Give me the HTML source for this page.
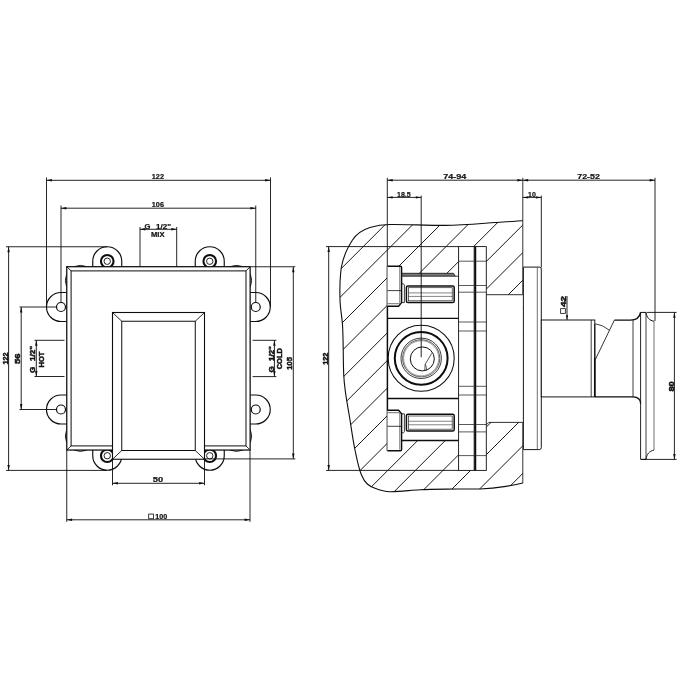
<!DOCTYPE html>
<html><head><meta charset="utf-8"><title>drawing</title>
<style>
html,body{margin:0;padding:0;background:#fff;}
body{width:700px;height:700px;overflow:hidden;}
svg{display:block;}
text{font-family:"Liberation Sans",sans-serif;font-weight:bold;fill:#111;stroke:#111;stroke-width:0.22px;}
text.r{stroke-width:0.5px;}
</style></head><body>
<svg width="700" height="700" viewBox="0 0 700 700">
<rect x="0" y="0" width="700" height="700" fill="#fff"/>
<g opacity="0.995">

<circle cx="80.5" cy="280.5" r="15.1" fill="none" stroke="#0c0c0c" stroke-width="1.0"/>
<circle cx="236.5" cy="280.5" r="15.1" fill="none" stroke="#0c0c0c" stroke-width="1.0"/>
<circle cx="80.5" cy="436.25" r="15.1" fill="none" stroke="#0c0c0c" stroke-width="1.0"/>
<circle cx="236.5" cy="436.25" r="15.1" fill="none" stroke="#0c0c0c" stroke-width="1.0"/>
<path d="M92.75,266.7 V261.25 A14.5,14.5 0 0 1 121.75,261.25 V266.7" fill="#fff" stroke="#0c0c0c" stroke-width="1.15" />
<circle cx="107.25" cy="261.25" r="6.3" fill="none" stroke="#0c0c0c" stroke-width="2.1"/>
<circle cx="107.25" cy="261.25" r="3.2" fill="none" stroke="#0c0c0c" stroke-width="0.9"/>
<path d="M92.75,450.05 V455.75 A14.5,14.5 0 0 0 121.75,455.75 V450.05" fill="#fff" stroke="#0c0c0c" stroke-width="1.15" />
<circle cx="107.25" cy="455.75" r="6.3" fill="none" stroke="#0c0c0c" stroke-width="2.1"/>
<circle cx="107.25" cy="455.75" r="3.2" fill="none" stroke="#0c0c0c" stroke-width="0.9"/>
<path d="M195.25,266.7 V261.25 A14.5,14.5 0 0 1 224.25,261.25 V266.7" fill="#fff" stroke="#0c0c0c" stroke-width="1.15" />
<circle cx="209.75" cy="261.25" r="6.3" fill="none" stroke="#0c0c0c" stroke-width="2.1"/>
<circle cx="209.75" cy="261.25" r="3.2" fill="none" stroke="#0c0c0c" stroke-width="0.9"/>
<path d="M195.25,450.05 V455.75 A14.5,14.5 0 0 0 224.25,455.75 V450.05" fill="#fff" stroke="#0c0c0c" stroke-width="1.15" />
<circle cx="209.75" cy="455.75" r="6.3" fill="none" stroke="#0c0c0c" stroke-width="2.1"/>
<circle cx="209.75" cy="455.75" r="3.2" fill="none" stroke="#0c0c0c" stroke-width="0.9"/>
<path d="M66.75,292.5 H61.0 A14.5,14.5 0 0 0 61.0,321.5 H66.75" fill="#fff" stroke="#0c0c0c" stroke-width="1.15" />
<circle cx="61.0" cy="307.0" r="4.5" fill="none" stroke="#0c0c0c" stroke-width="1.2"/>
<path d="M250.15,292.5 H255.75 A14.5,14.5 0 0 1 255.75,321.5 H250.15" fill="#fff" stroke="#0c0c0c" stroke-width="1.15" />
<circle cx="255.75" cy="307.0" r="4.5" fill="none" stroke="#0c0c0c" stroke-width="1.2"/>
<path d="M66.75,395.0 H61.0 A14.5,14.5 0 0 0 61.0,424.0 H66.75" fill="#fff" stroke="#0c0c0c" stroke-width="1.15" />
<circle cx="61.0" cy="409.5" r="4.5" fill="none" stroke="#0c0c0c" stroke-width="1.2"/>
<path d="M250.15,395.0 H255.75 A14.5,14.5 0 0 1 255.75,424.0 H250.15" fill="#fff" stroke="#0c0c0c" stroke-width="1.15" />
<circle cx="255.75" cy="409.5" r="4.5" fill="none" stroke="#0c0c0c" stroke-width="1.2"/>
<rect x="66.75" y="266.7" width="183.4" height="183.35" rx="0" fill="#fff" stroke="#0c0c0c" stroke-width="1.25"/>
<rect x="71.1" y="270.9" width="174.9" height="175.0" rx="0" fill="none" stroke="#0c0c0c" stroke-width="1.0"/>
<line x1="66.75" y1="266.7" x2="71.1" y2="270.9" stroke="#0c0c0c" stroke-width="0.9"/>
<line x1="250.15" y1="266.7" x2="246.0" y2="270.9" stroke="#0c0c0c" stroke-width="0.9"/>
<line x1="66.75" y1="450.05" x2="71.1" y2="445.9" stroke="#0c0c0c" stroke-width="0.9"/>
<line x1="250.15" y1="450.05" x2="246.0" y2="445.9" stroke="#0c0c0c" stroke-width="0.9"/>
<rect x="112.5" y="312.5" width="92.0" height="146.75" rx="0" fill="#fff" stroke="#0c0c0c" stroke-width="1.1"/>
<rect x="121.75" y="321.25" width="73.5" height="129.25" rx="0" fill="none" stroke="#0c0c0c" stroke-width="1.0"/>
<line x1="112.5" y1="312.5" x2="121.75" y2="321.25" stroke="#0c0c0c" stroke-width="0.9"/>
<line x1="204.5" y1="312.5" x2="195.25" y2="321.25" stroke="#0c0c0c" stroke-width="0.9"/>
<line x1="112.5" y1="459.25" x2="121.75" y2="450.5" stroke="#0c0c0c" stroke-width="0.9"/>
<line x1="204.5" y1="459.25" x2="195.25" y2="450.5" stroke="#0c0c0c" stroke-width="0.9"/>
<line x1="46.5" y1="177.5" x2="46.5" y2="307" stroke="#0c0c0c" stroke-width="0.9"/>
<line x1="270.5" y1="177.5" x2="270.5" y2="307" stroke="#0c0c0c" stroke-width="0.9"/>
<line x1="46.5" y1="180.3" x2="270.5" y2="180.3" stroke="#0c0c0c" stroke-width="0.9"/>
<polygon points="46.5,180.3 51.90,179.10 51.90,181.50" fill="#0c0c0c"/>
<polygon points="270.5,180.3 265.10,181.50 265.10,179.10" fill="#0c0c0c"/>
<text x="157.9" y="179.32" text-anchor="middle" font-size="7.6" textLength="12.2" lengthAdjust="spacingAndGlyphs">122</text>
<line x1="61" y1="205.5" x2="61" y2="302" stroke="#0c0c0c" stroke-width="0.9"/>
<line x1="255.75" y1="205.5" x2="255.75" y2="302" stroke="#0c0c0c" stroke-width="0.9"/>
<line x1="61" y1="208.2" x2="255.75" y2="208.2" stroke="#0c0c0c" stroke-width="0.9"/>
<polygon points="61,208.2 66.40,207.00 66.40,209.40" fill="#0c0c0c"/>
<polygon points="255.75,208.2 250.35,209.40 250.35,207.00" fill="#0c0c0c"/>
<text x="157.9" y="207.32" text-anchor="middle" font-size="7.6" textLength="12.2" lengthAdjust="spacingAndGlyphs">106</text>
<line x1="140" y1="227" x2="140" y2="266.5" stroke="#0c0c0c" stroke-width="0.9"/>
<line x1="176.7" y1="227" x2="176.7" y2="266.5" stroke="#0c0c0c" stroke-width="0.9"/>
<line x1="140" y1="229.3" x2="176.7" y2="229.3" stroke="#0c0c0c" stroke-width="0.9"/>
<polygon points="140,229.3 145.40,228.10 145.40,230.50" fill="#0c0c0c"/>
<polygon points="176.7,229.3 171.30,230.50 171.30,228.10" fill="#0c0c0c"/>
<text x="147.4" y="228.62" text-anchor="middle" font-size="7.6">G</text>
<text x="163.5" y="228.62" text-anchor="middle" font-size="7.6" textLength="15.0" lengthAdjust="spacingAndGlyphs">1/2"</text>
<text x="157.8" y="237.22" text-anchor="middle" font-size="7.6" textLength="13.5" lengthAdjust="spacingAndGlyphs">MIX</text>
<line x1="6" y1="246.75" x2="107" y2="246.75" stroke="#0c0c0c" stroke-width="0.9"/>
<line x1="6" y1="470.4" x2="107" y2="470.4" stroke="#0c0c0c" stroke-width="0.9"/>
<line x1="8.6" y1="246.75" x2="8.6" y2="470.4" stroke="#0c0c0c" stroke-width="0.9"/>
<polygon points="8.6,246.75 9.80,252.15 7.40,252.15" fill="#0c0c0c"/>
<polygon points="8.6,470.4 7.40,465.00 9.80,465.00" fill="#0c0c0c"/>
<text class="r" transform="translate(7.50,358.5) rotate(-90)" text-anchor="middle" font-size="8.1" textLength="12.0" lengthAdjust="spacingAndGlyphs">122</text>
<line x1="19.5" y1="307" x2="56.5" y2="307" stroke="#0c0c0c" stroke-width="0.9"/>
<line x1="19.5" y1="409.5" x2="56.5" y2="409.5" stroke="#0c0c0c" stroke-width="0.9"/>
<line x1="21.2" y1="307" x2="21.2" y2="409.5" stroke="#0c0c0c" stroke-width="0.9"/>
<polygon points="21.2,307 22.40,312.40 20.00,312.40" fill="#0c0c0c"/>
<polygon points="21.2,409.5 20.00,404.10 22.40,404.10" fill="#0c0c0c"/>
<text class="r" transform="translate(20.40,358.75) rotate(-90)" text-anchor="middle" font-size="8.1" textLength="10.5" lengthAdjust="spacingAndGlyphs">56</text>
<line x1="34.5" y1="340.3" x2="64.5" y2="340.3" stroke="#0c0c0c" stroke-width="0.9"/>
<line x1="34.5" y1="376.5" x2="64.5" y2="376.5" stroke="#0c0c0c" stroke-width="0.9"/>
<line x1="36.3" y1="340.3" x2="36.3" y2="376.5" stroke="#0c0c0c" stroke-width="0.9"/>
<polygon points="36.3,340.3 37.50,345.70 35.10,345.70" fill="#0c0c0c"/>
<polygon points="36.3,376.5 35.10,371.10 37.50,371.10" fill="#0c0c0c"/>
<text class="r" transform="translate(35.10,369.9) rotate(-90)" text-anchor="middle" font-size="8.1">G</text>
<text class="r" transform="translate(35.10,353.5) rotate(-90)" text-anchor="middle" font-size="8.1" textLength="15" lengthAdjust="spacingAndGlyphs">1/2"</text>
<text class="r" transform="translate(43.70,359.5) rotate(-90)" text-anchor="middle" font-size="8.1" textLength="16" lengthAdjust="spacingAndGlyphs">HOT</text>
<line x1="252.6" y1="340.3" x2="276.4" y2="340.3" stroke="#0c0c0c" stroke-width="0.9"/>
<line x1="252.6" y1="376.6" x2="276.4" y2="376.6" stroke="#0c0c0c" stroke-width="0.9"/>
<line x1="274.4" y1="340.3" x2="274.4" y2="376.6" stroke="#0c0c0c" stroke-width="0.9"/>
<polygon points="274.4,340.3 275.60,345.70 273.20,345.70" fill="#0c0c0c"/>
<polygon points="274.4,376.6 273.20,371.20 275.60,371.20" fill="#0c0c0c"/>
<text class="r" transform="translate(273.60,369.4) rotate(-90)" text-anchor="middle" font-size="8.1">G</text>
<text class="r" transform="translate(273.60,353.6) rotate(-90)" text-anchor="middle" font-size="8.1" textLength="14.8" lengthAdjust="spacingAndGlyphs">1/2"</text>
<text class="r" transform="translate(281.90,358.7) rotate(-90)" text-anchor="middle" font-size="8.1" textLength="21.2" lengthAdjust="spacingAndGlyphs">COLD</text>
<line x1="250.5" y1="266.75" x2="295.3" y2="266.75" stroke="#0c0c0c" stroke-width="0.9"/>
<line x1="205" y1="458.9" x2="295.3" y2="458.9" stroke="#0c0c0c" stroke-width="0.9"/>
<line x1="293.3" y1="266.75" x2="293.3" y2="458.9" stroke="#0c0c0c" stroke-width="0.9"/>
<polygon points="293.3,266.75 294.50,272.15 292.10,272.15" fill="#0c0c0c"/>
<polygon points="293.3,458.9 292.10,453.50 294.50,453.50" fill="#0c0c0c"/>
<text class="r" transform="translate(292.45,363.4) rotate(-90)" text-anchor="middle" font-size="8.1" textLength="12.5" lengthAdjust="spacingAndGlyphs">105</text>
<line x1="112.5" y1="459.5" x2="112.5" y2="485.3" stroke="#0c0c0c" stroke-width="0.9"/>
<line x1="204.5" y1="459.5" x2="204.5" y2="485.3" stroke="#0c0c0c" stroke-width="0.9"/>
<line x1="112.5" y1="483.3" x2="204.5" y2="483.3" stroke="#0c0c0c" stroke-width="0.9"/>
<polygon points="112.5,483.3 117.90,482.10 117.90,484.50" fill="#0c0c0c"/>
<polygon points="204.5,483.3 199.10,484.50 199.10,482.10" fill="#0c0c0c"/>
<text x="158.0" y="482.47" text-anchor="middle" font-size="7.6" textLength="10.4" lengthAdjust="spacingAndGlyphs">50</text>
<line x1="66.75" y1="450.3" x2="66.75" y2="521.8" stroke="#0c0c0c" stroke-width="0.9"/>
<line x1="250" y1="450.3" x2="250" y2="521.8" stroke="#0c0c0c" stroke-width="0.9"/>
<line x1="66.75" y1="519.8" x2="250" y2="519.8" stroke="#0c0c0c" stroke-width="0.9"/>
<polygon points="66.75,519.8 72.15,518.60 72.15,521.00" fill="#0c0c0c"/>
<polygon points="250,519.8 244.60,521.00 244.60,518.60" fill="#0c0c0c"/>
<rect x="148.70000000000002" y="514.05" width="4.7" height="4.7" rx="0" fill="none" stroke="#0c0c0c" stroke-width="0.8"/>
<text x="161.25" y="518.97" text-anchor="middle" font-size="7.6" textLength="11.9" lengthAdjust="spacingAndGlyphs">100</text>
<defs><clipPath id="hc"><path clip-rule="evenodd" d="M522.7,220.8 C510,221.8 500,222.2 495,222.5 C480,223.6 462,225.4 445,225.4 C425,225.4 405,224.3 390,224.5 C381,224.6 376,225.6 370,227.5 C362,230 356,234.5 352.5,240 C346.5,249 343,258 341.3,267.5 C339.8,278 339.7,290 340,300 C340.3,309 342,317 342.5,325 C343.5,341 343.0,358 343.75,375 C344.3,388 346.5,400 348.75,412.5 C351,425 352.5,438 355,450 C356.7,458 358.5,468 361.5,475 C365,483.5 369,486 375,488.3 C380,490.3 385,491.7 390,491.75 C400,491.9 410,490.2 420,489.7 C432,489.1 446,489.2 457.5,489 C468,488.8 474,489.2 480,489 C490,488.6 498,487.6 506,486.4 C512,485.5 518,484.3 522.9,483 Z M387.3,266.2 H401.6 V275.2 H455 L458.6,276.3 V246.6 H486.3 V294.7 H522.9 V422.3 H488.7 L486.3,424.8 V470.5 H458.6 V440.5 H401.6 V450.8 H387.3 Z"/></clipPath></defs>
<g clip-path="url(#hc)">
<line x1="330" y1="197.0" x2="530" y2="-3.0" stroke="#0c0c0c" stroke-width="0.95"/>
<line x1="330" y1="224.6" x2="530" y2="24.6" stroke="#0c0c0c" stroke-width="0.95"/>
<line x1="330" y1="252.2" x2="530" y2="52.2" stroke="#0c0c0c" stroke-width="0.95"/>
<line x1="330" y1="279.8" x2="530" y2="79.8" stroke="#0c0c0c" stroke-width="0.95"/>
<line x1="330" y1="307.4" x2="530" y2="107.4" stroke="#0c0c0c" stroke-width="0.95"/>
<line x1="330" y1="335.0" x2="530" y2="135.0" stroke="#0c0c0c" stroke-width="0.95"/>
<line x1="330" y1="362.6" x2="530" y2="162.6" stroke="#0c0c0c" stroke-width="0.95"/>
<line x1="330" y1="390.2" x2="530" y2="190.2" stroke="#0c0c0c" stroke-width="0.95"/>
<line x1="330" y1="417.8" x2="530" y2="217.8" stroke="#0c0c0c" stroke-width="0.95"/>
<line x1="330" y1="445.4" x2="530" y2="245.4" stroke="#0c0c0c" stroke-width="0.95"/>
<line x1="330" y1="473.0" x2="530" y2="273.0" stroke="#0c0c0c" stroke-width="0.95"/>
<line x1="330" y1="500.6" x2="530" y2="300.6" stroke="#0c0c0c" stroke-width="0.95"/>
<line x1="330" y1="528.2" x2="530" y2="328.2" stroke="#0c0c0c" stroke-width="0.95"/>
<line x1="330" y1="555.8" x2="530" y2="355.8" stroke="#0c0c0c" stroke-width="0.95"/>
<line x1="330" y1="583.4" x2="530" y2="383.4" stroke="#0c0c0c" stroke-width="0.95"/>
<line x1="330" y1="611.0" x2="530" y2="411.0" stroke="#0c0c0c" stroke-width="0.95"/>
<line x1="330" y1="638.6" x2="530" y2="438.6" stroke="#0c0c0c" stroke-width="0.95"/>
<line x1="330" y1="666.2" x2="530" y2="466.2" stroke="#0c0c0c" stroke-width="0.95"/>
<line x1="330" y1="693.8" x2="530" y2="493.8" stroke="#0c0c0c" stroke-width="0.95"/>
<line x1="330" y1="721.4" x2="530" y2="521.4" stroke="#0c0c0c" stroke-width="0.95"/>
</g>
<path d="M522.7,220.8 C510,221.8 500,222.2 495,222.5 C480,223.6 462,225.4 445,225.4 C425,225.4 405,224.3 390,224.5 C381,224.6 376,225.6 370,227.5 C362,230 356,234.5 352.5,240 C346.5,249 343,258 341.3,267.5 C339.8,278 339.7,290 340,300 C340.3,309 342,317 342.5,325 C343.5,341 343.0,358 343.75,375 C344.3,388 346.5,400 348.75,412.5 C351,425 352.5,438 355,450 C356.7,458 358.5,468 361.5,475 C365,483.5 369,486 375,488.3 C380,490.3 385,491.7 390,491.75 C400,491.9 410,490.2 420,489.7 C432,489.1 446,489.2 457.5,489 C468,488.8 474,489.2 480,489 C490,488.6 498,487.6 506,486.4 C512,485.5 518,484.3 522.9,483" fill="none" stroke="#0c0c0c" stroke-width="1.1" />
<line x1="522.8" y1="177.8" x2="522.8" y2="294.7" stroke="#0c0c0c" stroke-width="0.85"/>
<line x1="486.3" y1="294.7" x2="522.8" y2="294.7" stroke="#0c0c0c" stroke-width="0.85"/>
<path d="M486.3,424.9 L488.8,422.4 H522.8" fill="none" stroke="#0c0c0c" stroke-width="0.85" />
<line x1="522.8" y1="422.4" x2="522.8" y2="483" stroke="#0c0c0c" stroke-width="0.85"/>
<rect x="458.6" y="246.6" width="15.7" height="223.8" rx="0" fill="#fff" stroke="#0c0c0c" stroke-width="0.9"/>
<rect x="474.3" y="246.6" width="12.0" height="223.8" rx="0" fill="#fff" stroke="#0c0c0c" stroke-width="0.9"/>
<line x1="475.4" y1="246.6" x2="475.4" y2="470.4" stroke="#0c0c0c" stroke-width="1.7"/>
<line x1="458.6" y1="261.2" x2="486.3" y2="261.2" stroke="#222" stroke-width="0.75"/>
<line x1="458.6" y1="285.5" x2="486.3" y2="285.5" stroke="#222" stroke-width="0.75"/>
<line x1="458.6" y1="292.2" x2="486.3" y2="292.2" stroke="#222" stroke-width="0.75"/>
<line x1="458.6" y1="322.0" x2="486.3" y2="322.0" stroke="#222" stroke-width="0.75"/>
<line x1="458.6" y1="331.0" x2="486.3" y2="331.0" stroke="#222" stroke-width="0.75"/>
<line x1="458.6" y1="386.3" x2="486.3" y2="386.3" stroke="#222" stroke-width="0.75"/>
<line x1="458.6" y1="395.0" x2="486.3" y2="395.0" stroke="#222" stroke-width="0.75"/>
<line x1="458.6" y1="424.5" x2="486.3" y2="424.5" stroke="#222" stroke-width="0.75"/>
<line x1="458.6" y1="431.9" x2="486.3" y2="431.9" stroke="#222" stroke-width="0.75"/>
<line x1="458.6" y1="455.6" x2="486.3" y2="455.6" stroke="#222" stroke-width="0.75"/>
<line x1="387.4" y1="266.2" x2="387.4" y2="450.8" stroke="#0c0c0c" stroke-width="1.5"/>
<line x1="387.4" y1="318.3" x2="458.6" y2="318.3" stroke="#0c0c0c" stroke-width="1.3"/>
<line x1="387.4" y1="398.5" x2="458.6" y2="398.5" stroke="#0c0c0c" stroke-width="1.3"/>
<path d="M387.4,266.2 H400.4 Q401.6,266.2 401.6,267.4 V302.6 L398.6,306.2 H387.4" fill="#fff" stroke="#0c0c0c" stroke-width="1.4" />
<line x1="399.8" y1="267" x2="399.8" y2="303.5" stroke="#333" stroke-width="0.7"/>
<line x1="387.4" y1="290.6" x2="401.6" y2="290.6" stroke="#0c0c0c" stroke-width="0.8"/>
<line x1="387.4" y1="303.7" x2="399.6" y2="303.7" stroke="#333" stroke-width="0.7"/>
<path d="M401.6,283.8 H403.4 L404.4,285 V302.6 H401.6" fill="none" stroke="#0c0c0c" stroke-width="0.8" />
<path d="M401.8,273.3 H453.5 L455.2,276.2 H401.8 Z" fill="#777" stroke="#0c0c0c" stroke-width="0.8" />
<line x1="455" y1="276.2" x2="458.6" y2="276.2" stroke="#0c0c0c" stroke-width="0.8"/>
<rect x="406.4" y="285.9" width="47.8" height="16.7" rx="1.6" fill="none" stroke="#0c0c0c" stroke-width="1.5"/>
<rect x="408.6" y="287.7" width="43.6" height="13.1" rx="0" fill="none" stroke="#222" stroke-width="0.7"/>
<line x1="408.4" y1="292.91" x2="452.4" y2="292.91" stroke="#333" stroke-width="0.6"/>
<line x1="408.4" y1="296.42" x2="452.4" y2="296.42" stroke="#333" stroke-width="0.6"/>
<path d="M387.4,450.8 H400.4 Q401.6,450.8 401.6,449.6 V413.8 L398.6,410.2 H387.4" fill="#fff" stroke="#0c0c0c" stroke-width="1.4" />
<line x1="399.8" y1="449.8" x2="399.8" y2="413" stroke="#333" stroke-width="0.7"/>
<line x1="387.4" y1="426.3" x2="401.6" y2="426.3" stroke="#0c0c0c" stroke-width="0.8"/>
<line x1="387.4" y1="412.7" x2="399.6" y2="412.7" stroke="#333" stroke-width="0.7"/>
<path d="M401.6,432.8 H403.4 L404.4,431.6 V413.8 H401.6" fill="none" stroke="#0c0c0c" stroke-width="0.8" />
<line x1="401.6" y1="440.5" x2="458.6" y2="440.5" stroke="#0c0c0c" stroke-width="1.3"/>
<rect x="406.4" y="414.2" width="47.8" height="16.8" rx="1.6" fill="none" stroke="#0c0c0c" stroke-width="1.5"/>
<rect x="408.6" y="416.0" width="43.6" height="13.2" rx="0" fill="none" stroke="#222" stroke-width="0.7"/>
<line x1="408.4" y1="421.26" x2="452.4" y2="421.26" stroke="#333" stroke-width="0.6"/>
<line x1="408.4" y1="424.78" x2="452.4" y2="424.78" stroke="#333" stroke-width="0.6"/>
<circle cx="421.2" cy="358.3" r="33.0" fill="none" stroke="#0c0c0c" stroke-width="1.05"/>
<circle cx="421.2" cy="358.3" r="26.4" fill="none" stroke="#0c0c0c" stroke-width="2.0"/>
<circle cx="421.2" cy="358.3" r="20.2" fill="none" stroke="#222" stroke-width="0.9"/>
<circle cx="421.2" cy="358.3" r="18.6" fill="none" stroke="#333" stroke-width="0.8"/>
<circle cx="421.2" cy="358.3" r="17.6" fill="none" stroke="#555" stroke-width="0.6"/>
<circle cx="422.3" cy="358.90000000000003" r="12.0" fill="none" stroke="#0c0c0c" stroke-width="1.0"/>
<path d="M431.7,353.3 L425.2,364.3 L424.8,370.1" fill="none" stroke="#0c0c0c" stroke-width="0.7" />
<path d="M425.2,364.3 Q427.2,367.3 426.4,370.3" fill="none" stroke="#0c0c0c" stroke-width="0.6" />
<path d="M523.4,267.1 H539.3 Q541.3,267.1 541.3,269.1 V447.6 Q541.3,449.6 539.3,449.6 H523.4 Z" fill="#fff" stroke="#0c0c0c" stroke-width="0.95" />
<line x1="537.3" y1="267.5" x2="537.3" y2="449.2" stroke="#333" stroke-width="0.7"/>
<rect x="541.3" y="320.0" width="53.5" height="76.9" rx="0" fill="#fff" stroke="#0c0c0c" stroke-width="0.95"/>
<line x1="591.2" y1="320" x2="591.2" y2="396.9" stroke="#0c0c0c" stroke-width="0.8"/>
<line x1="594.8" y1="324" x2="594.8" y2="359" stroke="#0c0c0c" stroke-width="1.0"/>
<line x1="594.8" y1="358" x2="594.8" y2="396.9" stroke="#0c0c0c" stroke-width="1.7"/>
<path d="M595.2,323.8 Q603,324.8 609.3,330.2" fill="none" stroke="#0c0c0c" stroke-width="0.8" />
<line x1="595.5" y1="359.2" x2="614.4" y2="320.1" stroke="#0c0c0c" stroke-width="0.85"/>
<path d="M614.4,320.1 H630.5 C636,320.1 639.6,317.5 640.6,312.4" fill="none" stroke="#0c0c0c" stroke-width="1.4" />
<path d="M640.6,312.4 H646 C646.6,317.5 649.6,320.6 654,321.2" fill="none" stroke="#0c0c0c" stroke-width="1.0" />
<path d="M595,396.9 H633 Q640.6,397.2 640.6,403.5" fill="none" stroke="#0c0c0c" stroke-width="1.3" />
<line x1="633" y1="320.1" x2="633" y2="396.9" stroke="#0c0c0c" stroke-width="0.8"/>
<line x1="640.6" y1="312.4" x2="640.6" y2="459.4" stroke="#0c0c0c" stroke-width="0.9"/>
<line x1="646" y1="312.4" x2="646" y2="459.4" stroke="#0c0c0c" stroke-width="0.8"/>
<line x1="654" y1="321.2" x2="654" y2="450.2" stroke="#333" stroke-width="0.7"/>
<path d="M640.6,459.4 H646 C646.6,454 649.6,450.8 654,450.2" fill="none" stroke="#0c0c0c" stroke-width="0.9" />
<line x1="387.3" y1="177.8" x2="387.3" y2="266" stroke="#0c0c0c" stroke-width="0.9"/>
<line x1="387.3" y1="180.2" x2="522.8" y2="180.2" stroke="#0c0c0c" stroke-width="0.9"/>
<polygon points="387.3,180.2 392.70,179.00 392.70,181.40" fill="#0c0c0c"/>
<polygon points="522.8,180.2 517.40,181.40 517.40,179.00" fill="#0c0c0c"/>
<line x1="655" y1="177.8" x2="655" y2="321" stroke="#0c0c0c" stroke-width="0.9"/>
<line x1="522.8" y1="180.2" x2="655" y2="180.2" stroke="#0c0c0c" stroke-width="0.9"/>
<polygon points="522.8,180.2 528.20,179.00 528.20,181.40" fill="#0c0c0c"/>
<polygon points="655,180.2 649.60,181.40 649.60,179.00" fill="#0c0c0c"/>
<text x="454.85" y="179.32" text-anchor="middle" font-size="7.6" textLength="23.1" lengthAdjust="spacingAndGlyphs">74-94</text>
<text x="588.55" y="179.32" text-anchor="middle" font-size="7.6" textLength="22.5" lengthAdjust="spacingAndGlyphs">72-52</text>
<line x1="421.2" y1="195.6" x2="421.2" y2="357.2" stroke="#0c0c0c" stroke-width="0.9"/>
<line x1="387.3" y1="197.4" x2="421.2" y2="197.4" stroke="#0c0c0c" stroke-width="0.9"/>
<polygon points="387.3,197.4 392.70,196.20 392.70,198.60" fill="#0c0c0c"/>
<polygon points="421.2,197.4 415.80,198.60 415.80,196.20" fill="#0c0c0c"/>
<text x="403.9" y="196.77" text-anchor="middle" font-size="7.6" textLength="13.6" lengthAdjust="spacingAndGlyphs">18.5</text>
<line x1="541.3" y1="195.6" x2="541.3" y2="267.5" stroke="#0c0c0c" stroke-width="0.9"/>
<line x1="522.8" y1="197.4" x2="541.3" y2="197.4" stroke="#0c0c0c" stroke-width="0.9"/>
<polygon points="522.8,197.4 528.20,196.20 528.20,198.60" fill="#0c0c0c"/>
<polygon points="541.3,197.4 535.90,198.60 535.90,196.20" fill="#0c0c0c"/>
<text x="531.9" y="196.82" text-anchor="middle" font-size="7.6" textLength="7.7" lengthAdjust="spacingAndGlyphs">10</text>
<line x1="326" y1="246.6" x2="458.6" y2="246.6" stroke="#0c0c0c" stroke-width="0.9"/>
<line x1="326" y1="470.4" x2="458.6" y2="470.4" stroke="#0c0c0c" stroke-width="0.9"/>
<line x1="328.7" y1="246.6" x2="328.7" y2="470.4" stroke="#0c0c0c" stroke-width="0.9"/>
<polygon points="328.7,246.6 329.90,252.00 327.50,252.00" fill="#0c0c0c"/>
<polygon points="328.7,470.4 327.50,465.00 329.90,465.00" fill="#0c0c0c"/>
<text class="r" transform="translate(328.00,358.7) rotate(-90)" text-anchor="middle" font-size="8.1" textLength="12.2" lengthAdjust="spacingAndGlyphs">122</text>
<line x1="567.0" y1="296" x2="567.0" y2="320" stroke="#0c0c0c" stroke-width="0.9"/>
<polygon points="567.0,319.8 565.90,315.20 568.10,315.20" fill="#0c0c0c"/>
<rect x="560.65" y="308.65" width="4.7" height="4.7" rx="0" fill="none" stroke="#0c0c0c" stroke-width="0.8"/>
<text class="r" transform="translate(566.10,301.5) rotate(-90)" text-anchor="middle" font-size="8.1" textLength="10.8" lengthAdjust="spacingAndGlyphs">42</text>
<line x1="647" y1="312.4" x2="676.6" y2="312.4" stroke="#0c0c0c" stroke-width="0.9"/>
<line x1="641" y1="459.4" x2="676.6" y2="459.4" stroke="#0c0c0c" stroke-width="0.9"/>
<line x1="674.4" y1="312.4" x2="674.4" y2="459.4" stroke="#0c0c0c" stroke-width="0.9"/>
<polygon points="674.4,312.4 675.60,317.80 673.20,317.80" fill="#0c0c0c"/>
<polygon points="674.4,459.4 673.20,454.00 675.60,454.00" fill="#0c0c0c"/>
<text class="r" transform="translate(673.50,386.45) rotate(-90)" text-anchor="middle" font-size="8.1" textLength="10.3" lengthAdjust="spacingAndGlyphs">80</text>
</g></svg></body></html>
